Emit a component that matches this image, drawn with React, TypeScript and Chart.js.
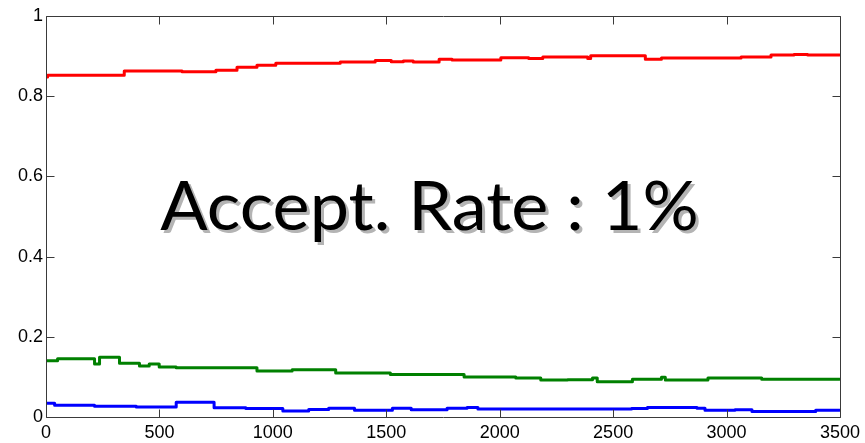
import { useEffect, useRef } from 'react';
import { Chart, registerables } from 'chart.js';

Chart.register(...registerables);

// ---- data ----
const redX = [0, 7, 345, 600, 749, 842, 930, 1013, 1297, 1451, 1522, 1575, 1619, 1733, 1790, 2005, 2128, 2190, 2388, 2401, 2642, 2713, 3064, 3196, 3297, 3358, 3500];
const redY = [0.848, 0.852, 0.863, 0.861, 0.865, 0.872, 0.877, 0.882, 0.885, 0.889, 0.886, 0.888, 0.885, 0.892, 0.890, 0.896, 0.894, 0.898, 0.894, 0.901, 0.892, 0.895, 0.898, 0.903, 0.904, 0.903, 0.903];

const greenX = [0, 51, 214, 236, 324, 412, 455, 499, 574, 930, 1085, 1277, 1518, 1843, 2071, 2181, 2299, 2409, 2430, 2585, 2713, 2730, 2918, 3155, 3500];
const greenY = [0.140, 0.145, 0.132, 0.149, 0.134, 0.127, 0.132, 0.125, 0.123, 0.115, 0.118, 0.110, 0.106, 0.100, 0.097, 0.092, 0.093, 0.097, 0.088, 0.094, 0.099, 0.092, 0.097, 0.094, 0.094];

const blueX = [0, 38, 214, 398, 574, 741, 881, 1044, 1158, 1246, 1360, 1527, 1610, 1768, 1856, 1904, 2581, 2651, 2870, 2905, 3037, 3112, 3393, 3500];
const blueY = [0.034, 0.029, 0.027, 0.025, 0.037, 0.023, 0.021, 0.015, 0.019, 0.022, 0.017, 0.022, 0.018, 0.022, 0.024, 0.020, 0.021, 0.024, 0.022, 0.017, 0.018, 0.014, 0.017, 0.017];

const xTicks = [0, 500, 1000, 1500, 2000, 2500, 3000, 3500];
const xTickLabels = ['0', '500', '1000', '1500', '2000', '2500', '3000', '3500'];
const yTicks = [0, 0.2, 0.4, 0.6, 0.8, 1];
const yTickLabels = ['0', '0.2', '0.4', '0.6', '0.8', '1'];

const annotationText = 'Accept. Rate : 1%';
const annotationX = 1685;
const annotationY = 0.466;

// each value holds from its x until the next x (stepped: 'before' in Chart.js terms)
const toPoints = (xs: number[], ys: number[]) => xs.map((x, i) => ({ x, y: ys[i] }));

const boxPlugin = {
  id: 'matlabBox',
  afterDatasetsDraw(chart: any) {
    const { ctx, scales } = chart;
    const xs = scales.x;
    const ys = scales.y;
    ctx.save();
    const fam = '"Comic Sans MS", "Lato", "Open Sans", sans-serif';
    const base = 60;
    ctx.font = `${base}px ${fam}`;
    const m = ctx.measureText(annotationText);
    const inkW = m.actualBoundingBoxLeft + m.actualBoundingBoxRight;
    const capH = ctx.measureText('A').actualBoundingBoxAscent;
    const sx = 536 / inkW;
    const sy = 48 / capH;
    const cx = xs.getPixelForValue(annotationX);
    const by = ys.getPixelForValue(annotationY);
    ctx.textAlign = 'left';
    ctx.textBaseline = 'alphabetic';
    const drawAt = (dx: number, dy: number, color: string) => {
      ctx.save();
      ctx.translate(cx + dx, by + dy);
      ctx.scale(sx, sy);
      ctx.fillStyle = color;
      ctx.fillText(annotationText, -inkW / 2 + m.actualBoundingBoxLeft, 0);
      ctx.restore();
    };
    drawAt(3, 3, '#b4b4b4');
    drawAt(0, 0, '#000000');
    ctx.restore();
  },
  afterDraw(chart: any) {
    const { ctx, chartArea: a, scales } = chart;
    const xs = scales.x;
    const ys = scales.y;
    ctx.save();
    ctx.strokeStyle = '#3a3a3a';
    ctx.lineWidth = 1;
    const L = Math.round(a.left) + 0.5;
    const R = Math.round(a.right) + 0.5;
    const T = Math.round(a.top) + 0.5;
    const B = Math.round(a.bottom) + 0.5;
    ctx.beginPath();
    ctx.rect(L, T, R - L, B - T);
    const tl = 8;
    xTicks.forEach((v) => {
      const px = Math.round(xs.getPixelForValue(v)) + 0.5;
      ctx.moveTo(px, B); ctx.lineTo(px, B - tl);
      ctx.moveTo(px, T); ctx.lineTo(px, T + tl);
    });
    yTicks.forEach((v) => {
      const py = Math.round(ys.getPixelForValue(v)) + 0.5;
      ctx.moveTo(L, py); ctx.lineTo(L + tl, py);
      ctx.moveTo(R, py); ctx.lineTo(R - tl, py);
    });
    ctx.stroke();
    ctx.restore();
  },
};

export default function App() {
  const ref = useRef<HTMLCanvasElement | null>(null);
  useEffect(() => {
    document.body.style.margin = '0';
    const canvas = ref.current;
    if (!canvas) return;
    const tickFont = { family: '"Liberation Sans", Arial, sans-serif', size: 18 };
    const common = { borderWidth: 3, pointRadius: 0, fill: false, stepped: 'before' as const, borderJoinStyle: 'round' as const };
    const chart = new Chart(canvas, {
      type: 'line',
      data: {
        datasets: [
          { data: toPoints(redX, redY), borderColor: '#ff0000', ...common },
          { data: toPoints(greenX, greenY), borderColor: '#008000', ...common },
          { data: toPoints(blueX, blueY), borderColor: '#0000ff', ...common },
        ],
      },
      options: {
        responsive: false,
        animation: false,
        layout: { padding: { top: 16, right: 22, left: 0, bottom: 0 } },
        plugins: { legend: { display: false }, tooltip: { enabled: false } },
        scales: {
          x: {
            type: 'linear',
            min: 0,
            max: 3500,
            afterBuildTicks: (s: any) => { s.ticks = xTicks.map((v) => ({ value: v })); },
            afterFit: (s: any) => { s.height = 26; },
            grid: { display: false, drawTicks: false },
            border: { display: false },
            ticks: {
              color: '#000',
              font: tickFont,
              padding: 5,
              maxRotation: 0,
              autoSkip: false,
              callback: (_v: any, i: number) => xTickLabels[i],
            },
          },
          y: {
            type: 'linear',
            min: 0,
            max: 1,
            afterBuildTicks: (s: any) => { s.ticks = yTicks.map((v) => ({ value: v })); },
            afterFit: (s: any) => { s.width = 46; },
            grid: { display: false, drawTicks: false },
            border: { display: false },
            ticks: {
              color: '#000',
              font: tickFont,
              padding: 3,
              autoSkip: false,
              callback: (_v: any, i: number) => yTickLabels[i],
            },
          },
        },
      },
      plugins: [boxPlugin],
    });
    return () => chart.destroy();
  }, []);
  return (
    <div style={{ width: 865, height: 443 }}>
      <canvas ref={ref} width={865} height={443} />
    </div>
  );
}
